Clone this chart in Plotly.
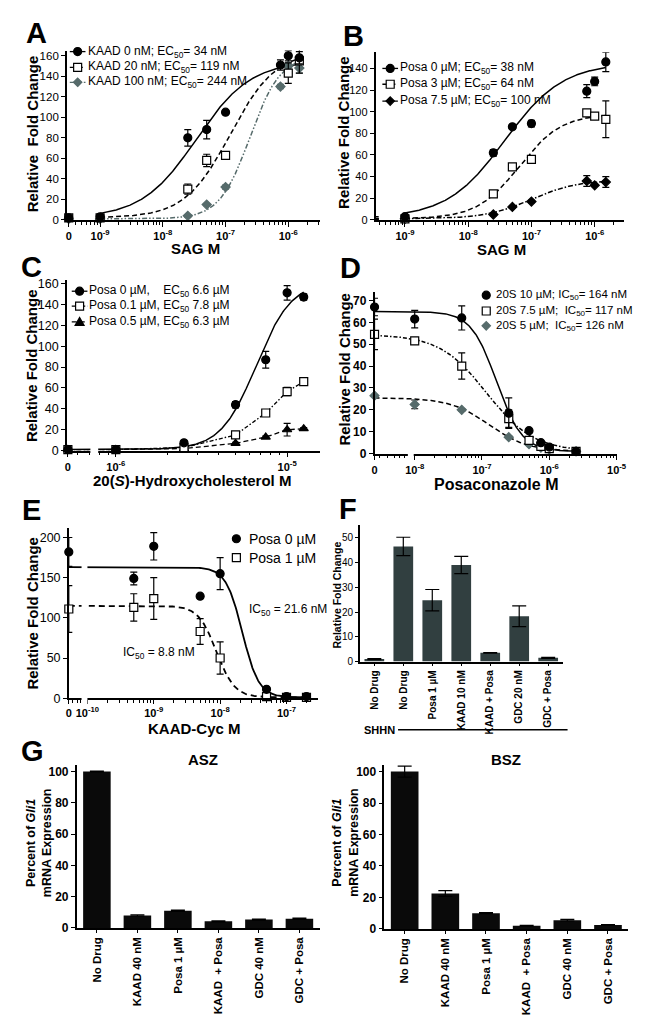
import numpy as np
import plotly.graph_objects as go

W, H = 646, 1016
FONT = "Liberation Sans, Arial, Helvetica, sans-serif"
GREY = "#566b6b"
FBAR = "#313f40"
GBAR = "#0a0a0a"

# ======================= DATA =======================
# Panel A: SAG dose response with KAAD-cyclopamine
A_conc = [0, 1e-9, 2.5e-8, 5e-8, 1e-7, 7.5e-7, 1e-6, 1.5e-6]
A_kaad0 = [2, 3, 80, 88, 105, 151, 160, 158]
A_kaad0_err = [1, 1, 8, 9, 2, 5, 5, 6]
A_kaad20 = [2, 2, 30, 58, 63, None, 143, 155]
A_kaad20_err = [1, 1, 5, 6, 3, 0, 10, 12]
A_kaad100 = [1, 1, 4, 15, 32, 130, 150, 148]
A_kaad100_err = [0.5, 0.5, 1, 1, 2, 2, 3, 5]
A_legend = ["KAAD 0 nM; EC<sub>50</sub>= 34 nM",
            "KAAD 20 nM; EC<sub>50</sub>= 119 nM",
            "KAAD 100 nM; EC<sub>50</sub>= 244 nM"]
A_fit_bottom = [2, 2, 1]
A_fit_top = [155, 165, 160]
A_fit_ec50 = [34e-9, 119e-9, 244e-9]
A_fit_hill = [1.0, 1.2, 1.8]

# Panel B: SAG dose response with posaconazole
B_conc = [0, 1e-9, 2.5e-8, 5e-8, 1e-7, 7.5e-7, 1e-6, 1.5e-6]
B_posa0 = [2, 3, 62, 86, 89, 119, 128, 146]
B_posa0_err = [1, 1, 3, 2, 3, 6, 4, 9]
B_posa3 = [1, 1, 24, 49, 56, 99, 96, 93]
B_posa3_err = [0.5, 0.5, 2, 2, 2, 2, 2, 17]
B_posa75 = [1, 1, 5, 12, 17, 36, 32, 35]
B_posa75_err = [0.5, 0.5, 1, 1, 1, 5, 1, 5]
B_legend = ["Posa 0 µM; EC<sub>50</sub>= 38 nM",
            "Posa 3 µM; EC<sub>50</sub>= 64 nM",
            "Posa 7.5 µM; EC<sub>50</sub>= 100 nM"]
B_fit_bottom = [2, 1, 1]
B_fit_top = [145, 98, 37]
B_fit_ec50 = [38e-9, 64e-9, 100e-9]
B_fit_hill = [0.95, 1.3, 1.2]

# Panel C: 20(S)-hydroxycholesterol dose response with posaconazole
C_conc = [0, 1e-6, 2.5e-6, 5e-6, 7.5e-6, 1e-5, 1.25e-5]
C_posa0 = [1, 1, 7.5, 44, 87, 151, 147]
C_posa0_err = [0.5, 0.5, 1.5, 3, 8, 7, 3]
C_posa01 = [1, 1, 3, 15, 36, 56.5, 66]
C_posa01_err = [0.5, 0.5, 0.5, 1.5, 1.5, 4, 2]
C_posa05 = [1, 1, 2, 7, 13, 20, 21]
C_posa05_err = [0.5, 0.5, 0.5, 1, 1, 6, 1]
C_legend = ["Posa 0 µM,\u00a0\u00a0\u00a0\u00a0EC<sub>50</sub> 6.6 µM",
            "Posa 0.1 µM, EC<sub>50</sub> 7.8 µM",
            "Posa 0.5 µM, EC<sub>50</sub> 6.3 µM"]
C_fit_bottom = [1]
C_fit_top = [162]
C_fit_ec50 = [6.6e-6]
C_fit_hill = [4.2]

# Panel D: posaconazole inhibition of 20(S)-OHC stimulation
D_conc = [0, 1e-8, 5e-8, 2.5e-7, 5e-7, 7.5e-7, 1e-6, 2.5e-6]
D_s10 = [67, 61.5, 62, 18.5, 10.5, 5, 3, 1]
D_s10_err = [4, 4, 5.5, 7, 0, 0, 0, 0]
D_s75 = [54.5, 51.5, 40, 16, 6, 3.3, 2.3, 1]
D_s75_err = [7, 1.5, 6, 4, 1, 0.5, 0.5, 0.3]
D_s5 = [26.5, 22.5, 20, 7.5, 4.3, 2.8, 2, 1]
D_s5_err = [0.5, 2, 0.5, 0.5, 0.5, 0.5, 0.3, 0.3]
D_legend = ["20S 10 µM; IC<sub>50</sub>= 164 nM",
            "20S 7.5 µM;\u00a0 IC<sub>50</sub>= 117 nM",
            "20S 5 µM;\u00a0 IC<sub>50</sub>= 126 nM"]
D_fit_bottom = [1, 1, 1]
D_fit_top = [65, 54.5, 25.5]
D_fit_ic50 = [164e-9, 117e-9, 126e-9]
D_fit_hill = [2.3, 1.25, 1.5]

# Panel E: KAAD-cyclopamine inhibition +/- posaconazole
E_conc = [0, 5e-10, 1e-9, 5e-9, 1e-8, 5e-8, 1e-7, 2e-7]
E_posa0 = [182, 149, 189, 127, 155, 11, 2, 2]
E_posa0_err = [18, 8, 17, 0, 20, 0, 0, 0]
E_posa1 = [111, 113, 124, 83, 50, 2, 1, 1]
E_posa1_err = [29, 17, 26, 16, 20, 0, 0, 0]
E_legend = ["Posa 0 µM", "Posa 1 µM"]
E_ic50_text = ["IC<sub>50</sub> = 21.6 nM", "IC<sub>50</sub> = 8.8 nM"]
E_fit_bottom = [1, 1]
E_fit_top = [163, 115]
E_fit_ic50 = [21.6e-9, 8.8e-9]
E_fit_hill = [3.5, 3.2]

# Panel F: SHHN bars
F_labels = ["No Drug", "No Drug", "Posa 1 µM", "KAAD 10 nM", "KAAD + Posa", "GDC 20 nM", "GDC + Posa"]
F_vals = [1, 46.5, 24.8, 39, 3.5, 18.3, 1.5]
F_err = [0.2, 3.7, 4.3, 3.5, 0.1, 4.2, 0.2]

# Panel G: ASZ / BSZ bars
G_labels = ["No Drug", "KAAD 40 nM", "Posa 1 µM", "KAAD\u00a0 + Posa", "GDC 40 nM", "GDC + Posa"]
G_asz = [100, 8, 11, 4.2, 5.3, 5.8]
G_asz_err = [0.3, 0.4, 0.4, 0.3, 0.3, 0.4]
G_bsz = [100, 22.5, 10, 2, 5.5, 2.5]
G_bsz_err = [3.5, 1.8, 0.3, 0.2, 0.5, 0.2]

# ======================= HELPERS =======================
def PX(x):
    return x / W


def PY(y):
    return 1 - y / H


def hill_up(x, bottom, top, ec50, n):
    return bottom + (top - bottom) / (1 + (ec50 / x) ** n)


def hill_down(x, bottom, top, ic50, n):
    return bottom + (top - bottom) / (1 + (x / ic50) ** n)


def xmap(conc, zero_log):
    return [10 ** zero_log if c == 0 else c for c in conc]


fig = go.Figure()
shapes = []
annotations = []


def add_points(xa, ya, x, y, err, symbol, size, color, fill, errcolor=None):
    fig.add_trace(go.Scatter(
        x=x, y=y, mode="markers", xaxis=xa, yaxis=ya,
        marker=dict(symbol=symbol, size=size, color=fill, line=dict(color=color, width=1.2)),
        error_y=dict(type="data", array=err, visible=True, color=errcolor or "black",
                     thickness=1.2, width=3.5),
        cliponaxis=False, showlegend=False, hoverinfo="skip"))


def add_curve(xa, ya, x0, x1, fn, params, color, dash, width=1.5):
    xs = np.logspace(np.log10(x0), np.log10(x1), 300)
    ys = fn(xs, *params)
    fig.add_trace(go.Scatter(
        x=xs, y=ys, mode="lines", xaxis=xa, yaxis=ya,
        line=dict(color=color, width=width, dash=dash),
        cliponaxis=False, showlegend=False, hoverinfo="skip"))


def add_line(xa, ya, x, y, color, dash, width=1.3):
    fig.add_trace(go.Scatter(
        x=x, y=y, mode="lines", xaxis=xa, yaxis=ya,
        line=dict(color=color, width=width, dash=dash),
        cliponaxis=False, showlegend=False, hoverinfo="skip"))


def text(x, y, s, size, bold=False, angle=0, anchor="center", color="black"):
    annotations.append(dict(
        x=PX(x), y=PY(y), xref="paper", yref="paper", text=s, showarrow=False,
        xanchor=anchor, yanchor="middle", textangle=angle, borderpad=0,
        font=dict(family=FONT, size=size, color=color, weight="bold" if bold else "normal")))


def key(xc, yc, kind, color, fill, dash=None):
    if dash:
        shapes.append(dict(type="line", xref="paper", yref="paper",
                           x0=PX(xc - 8), x1=PX(xc + 8), y0=PY(yc), y1=PY(yc),
                           line=dict(color=color, width=1.3, dash=dash), layer="above"))
    base = dict(xref="paper", yref="paper", xsizemode="pixel", ysizemode="pixel",
                xanchor=PX(xc), yanchor=PY(yc), fillcolor=fill,
                line=dict(color=color, width=1.2), layer="above")
    if kind == "circle":
        shapes.append(dict(type="circle", x0=-4, x1=4, y0=-4, y1=4, **base))
    elif kind == "square":
        shapes.append(dict(type="rect", x0=-4, x1=4, y0=-4, y1=4, **base))
    elif kind == "diamond":
        shapes.append(dict(type="path", path="M 0,-4.2 L 4.2,0 L 0,4.2 L -4.2,0 Z", **base))
    elif kind == "triangle":
        shapes.append(dict(type="path", path="M -4.5,-3.5 L 4.5,-3.5 L 0,4.5 Z", **base))


def white_rect(x0, x1, y0, y1):
    shapes.append(dict(type="rect", xref="paper", yref="paper",
                       x0=PX(x0), x1=PX(x1), y0=PY(y1), y1=PY(y0),
                       fillcolor="white", line=dict(width=0), layer="above"))


AX = dict(showline=True, linecolor="black", linewidth=1.5, ticks="outside",
          tickwidth=1.3, tickcolor="black", showgrid=False, zeroline=False, fixedrange=True)


def log_x(left, right, rng, zero_log, majors, anchor, ticklen=5):
    minors = []
    for e in range(-12, -3):
        for k in range(2, 10):
            v = k * 10.0 ** e
            if rng[0] + 0.03 < np.log10(v) < rng[1]:
                minors.append(v)
    return dict(type="log", domain=[PX(left), PX(right)], range=rng, anchor=anchor,
                tickmode="array", tickvals=[10 ** zero_log] + majors,
                ticktext=["0"] + ["10<sup>%d</sup>" % round(np.log10(m)) for m in majors],
                ticklen=ticklen,
                tickfont=dict(family=FONT, size=11, color="black", weight="bold"),
                minor=dict(tickmode="array", tickvals=minors, ticks="outside", ticklen=3,
                           tickwidth=1, tickcolor="black"),
                **AX)


def lin_y(top, bottom, rng, dtick, anchor, size, bold, ticklen=4):
    return dict(domain=[PY(bottom), PY(top)], range=rng, anchor=anchor,
                tickmode="linear", tick0=0, dtick=dtick, ticklen=ticklen,
                tickfont=dict(family=FONT, size=size, color="black",
                              weight="bold" if bold else "normal"),
                **AX)


def cat_x(left, right, n, labels, anchor, size):
    return dict(domain=[PX(left), PX(right)], range=[-0.5, n - 0.5], anchor=anchor,
                tickmode="array", tickvals=list(range(n)), ticktext=labels,
                tickangle=-90, ticklen=3,
                tickfont=dict(family=FONT, size=size, color="black", weight="bold"),
                **AX)


layout = {}
LET = 29

# ======================= PANEL A =======================
A_zero = -9.5
layout["xaxis"] = log_x(57, 315, [-9.53, -5.5], A_zero, [1e-9, 1e-8, 1e-7, 1e-6], "y")
layout["yaxis"] = lin_y(40, 211, [0, 165], 20, "x", 11.5, False)
A_dash = ["solid", "5px,3px", "5px,2px,1.5px,2px,1.5px,2px"]
A_color = ["black", "black", GREY]
for i in range(3):
    add_curve("x", "y", 1e-9, 1.5e-6, hill_up,
              (A_fit_bottom[i], A_fit_top[i], A_fit_ec50[i], A_fit_hill[i]),
              A_color[i], A_dash[i])
xA = xmap(A_conc, A_zero)
add_points("x", "y", xA, A_kaad100, A_kaad100_err, "diamond", 7, GREY, GREY, GREY)
add_points("x", "y", xA, A_kaad20, A_kaad20_err, "square", 8, "black", "white")
add_points("x", "y", xA, A_kaad0, A_kaad0_err, "circle", 8, "black", "black")
A_keys = [("circle", "black", "black"), ("square", "black", "white"), ("diamond", GREY, GREY)]
for i, yk in enumerate([41, 57, 72]):
    key(68, yk, A_keys[i][0], A_keys[i][1], A_keys[i][2], A_dash[i])
    text(78, yk, A_legend[i], 12, anchor="left")
text(26, 22, "A", LET, bold=True)
text(22, 124, "Relative\u00a0\u00a0Fold Change", 15, bold=True, angle=-90)
text(188, 240, "SAG M", 15, bold=True)

# ======================= PANEL B =======================
B_zero = -9.47
layout["xaxis2"] = log_x(372, 626, [-9.465, -5.53], B_zero, [1e-9, 1e-8, 1e-7, 1e-6], "y2")
layout["yaxis2"] = lin_y(41.6, 211, [0, 155], 20, "x2", 11, False)
B_dash = ["solid", "5px,3px", "5px,2px,1.5px,2px"]
for i in range(3):
    add_curve("x2", "y2", 1e-9, 1.5e-6, hill_up,
              (B_fit_bottom[i], B_fit_top[i], B_fit_ec50[i], B_fit_hill[i]),
              "black", B_dash[i])
xB = xmap(B_conc, B_zero)
add_points("x2", "y2", xB, B_posa75, B_posa75_err, "diamond", 7, "black", "black")
add_points("x2", "y2", xB, B_posa3, B_posa3_err, "square", 8, "black", "white")
add_points("x2", "y2", xB, B_posa0, B_posa0_err, "circle", 8, "black", "black")
B_keys = [("circle", "black", "black"), ("square", "black", "white"), ("diamond", "black", "black")]
for i, yk in enumerate([58, 74, 91]):
    key(387, yk, B_keys[i][0], B_keys[i][1], B_keys[i][2], B_dash[i])
    text(396, yk, B_legend[i], 12, anchor="left")
text(350, 25, "B", LET, bold=True)
text(340, 123, "Relative Fold Change", 15, bold=True, angle=-90)
text(501, 241, "SAG M", 15, bold=True)

# ======================= PANEL C =======================
C_zero = -6.28
layout["xaxis3"] = log_x(57, 315, [-6.286, -4.81], C_zero, [1e-6, 1e-5], "y3")
layout["yaxis3"] = lin_y(272, 444, [0, 163], 20, "x3", 12.5, False)
xC = xmap(C_conc, C_zero)
add_curve("x3", "y3", 10 ** C_zero, 1.25e-5, hill_up,
          (C_fit_bottom[0], C_fit_top[0], C_fit_ec50[0], C_fit_hill[0]), "black", "solid")
C_dash = ["solid", "4px,2px,1.5px,2px", "5px,3px"]
add_line("x3", "y3", xC, C_posa01, "black", C_dash[1])
add_line("x3", "y3", xC, C_posa05, "black", C_dash[2])
add_points("x3", "y3", xC, C_posa05, C_posa05_err, "triangle-up", 8, "black", "black")
add_points("x3", "y3", xC, C_posa01, C_posa01_err, "square", 8, "black", "white")
add_points("x3", "y3", xC, C_posa0, C_posa0_err, "circle", 8, "black", "black")
C_keys = [("circle", "black", "black"), ("square", "black", "white"), ("triangle", "black", "black")]
for i, yk in enumerate([283, 298, 314]):
    key(70, yk, C_keys[i][0], C_keys[i][1], C_keys[i][2], C_dash[i])
    text(79, yk, C_legend[i], 12, anchor="left")
white_rect(81, 89, 436, 449)
text(21, 259, "C", LET, bold=True)
text(21, 358, "Relative Fold Change", 15, bold=True, angle=-90)
text(185, 474, "20(<i>S</i>)-Hydroxycholesterol M", 15, bold=True)

# ======================= PANEL D =======================
D_zero = -8.597
layout["xaxis4"] = log_x(371, 618, [-8.597, -5.0], D_zero, [1e-8, 1e-7, 1e-6, 1e-5], "y4")
layout["yaxis4"] = lin_y(283.5, 447, [0, 74], 10, "x4", 12, True)
xD = xmap(D_conc, D_zero)
D_dash = ["solid", "4px,2px,1.5px,2px", "5px,3px"]
for i in range(3):
    add_curve("x4", "y4", 10 ** D_zero, 2.5e-6, hill_down,
              (D_fit_bottom[i], D_fit_top[i], D_fit_ic50[i], D_fit_hill[i]),
              "black", D_dash[i])
add_points("x4", "y4", xD, D_s5, D_s5_err, "diamond", 7, GREY, GREY)
add_points("x4", "y4", xD, D_s75, D_s75_err, "square", 8, "black", "white")
add_points("x4", "y4", xD, D_s10, D_s10_err, "circle", 8, "black", "black")
D_keys = [("circle", "black", "black"), ("square", "black", "white"), ("diamond", GREY, GREY)]
for i, yk in enumerate([287, 303, 318]):
    key(485, yk, D_keys[i][0], D_keys[i][1], D_keys[i][2])
    text(494, yk, D_legend[i], 11.5, anchor="left")
white_rect(405, 411, 442, 452)
text(346, 260, "D", LET, bold=True)
text(340, 362, "Relative Fold Change", 15, bold=True, angle=-90)
text(495, 478, "Posaconazole M", 16, bold=True)

# ======================= PANEL E =======================
E_zero = -10.28
layout["xaxis5"] = log_x(59, 313, [-10.28, -6.53], E_zero, [1e-10, 1e-9, 1e-8, 1e-7], "y5",
                         ticklen=4)
layout["yaxis5"] = lin_y(522, 694, [0, 212], 50, "x5", 12.5, False)
xE = xmap(E_conc, E_zero)
E_dash = ["solid", "6px,4px"]
for i in range(2):
    add_curve("x5", "y5", 10 ** E_zero, 2e-7, hill_down,
              (E_fit_bottom[i], E_fit_top[i], E_fit_ic50[i], E_fit_hill[i]),
              "black", E_dash[i], width=1.8)
add_points("x5", "y5", xE, E_posa1, E_posa1_err, "square", 8, "black", "white")
add_points("x5", "y5", xE, E_posa0, E_posa0_err, "circle", 8, "black", "black")
key(230, 533, "circle", "black", "black")
key(230, 552, "square", "black", "white")
text(242, 533, E_legend[0], 14, anchor="left")
text(242, 552, E_legend[1], 14, anchor="left")
text(242, 605, E_ic50_text[0], 12, anchor="left")
text(113, 648, E_ic50_text[1], 12, anchor="left")
white_rect(72, 78, 515, 700)
text(21, 504, "E", LET, bold=True)
text(21, 608, "Relative Fold Change", 15, bold=True, angle=-90)
text(187, 725, "KAAD-Cyc M", 15, bold=True)

# ======================= PANEL F =======================
layout["xaxis6"] = cat_x(356, 563, len(F_labels), F_labels, "y6", 10)
layout["yaxis6"] = lin_y(519, 657, [0, 55.2], 10, "x6", 10, False, ticklen=3)
fig.add_trace(go.Bar(x=list(range(len(F_vals))), y=F_vals, width=0.68, xaxis="x6", yaxis="y6",
                     marker=dict(color=FBAR, line=dict(width=0)),
                     error_y=dict(type="data", array=F_err, color="black", thickness=1.2, width=7),
                     showlegend=False, hoverinfo="skip"))
text(344, 503, "F", LET, bold=True)
text(333, 590, "Relative Fold Change", 10.5, bold=True, angle=-90)
text(376, 726, "SHHN", 11, bold=True)
shapes.append(dict(type="line", xref="paper", yref="paper", x0=PX(395), x1=PX(568),
                   y0=PY(726), y1=PY(726), line=dict(color="black", width=1.5)))

# ======================= PANEL G =======================
layout["xaxis7"] = cat_x(67, 315, len(G_labels), G_labels, "y7", 11.5)
layout["yaxis7"] = lin_y(761, 926, [0, 104.5], 20, "x7", 12, True)
layout["xaxis8"] = cat_x(381, 630, len(G_labels), G_labels, "y8", 11.5)
layout["yaxis8"] = lin_y(761, 927, [0, 104.5], 20, "x8", 12, True)
fig.add_trace(go.Bar(x=list(range(len(G_asz))), y=G_asz, width=0.68, xaxis="x7", yaxis="y7",
                     marker=dict(color=GBAR, line=dict(width=0)),
                     error_y=dict(type="data", array=G_asz_err, color="black", thickness=1.2, width=7),
                     showlegend=False, hoverinfo="skip"))
fig.add_trace(go.Bar(x=list(range(len(G_bsz))), y=G_bsz, width=0.68, xaxis="x8", yaxis="y8",
                     marker=dict(color=GBAR, line=dict(width=0)),
                     error_y=dict(type="data", array=G_bsz_err, color="black", thickness=1.2, width=7),
                     showlegend=False, hoverinfo="skip"))
text(22, 747, "G", LET, bold=True)
text(196, 756, "ASZ", 15, bold=True)
text(505, 756, "BSZ", 15, bold=True)
text(28, 840, "Percent of <i>Gli1</i><br>mRNA Expression", 12.5, bold=True, angle=-90)
text(341, 840, "Percent of <i>Gli1</i><br>mRNA Expression", 12.5, bold=True, angle=-90)

fig.update_layout(
    width=W, height=H, margin=dict(l=0, r=0, t=0, b=0),
    paper_bgcolor="white", plot_bgcolor="rgba(0,0,0,0)",
    font=dict(family=FONT, color="black"),
    shapes=shapes, annotations=annotations, showlegend=False,
    **layout)

fig.write_html("out.html")
